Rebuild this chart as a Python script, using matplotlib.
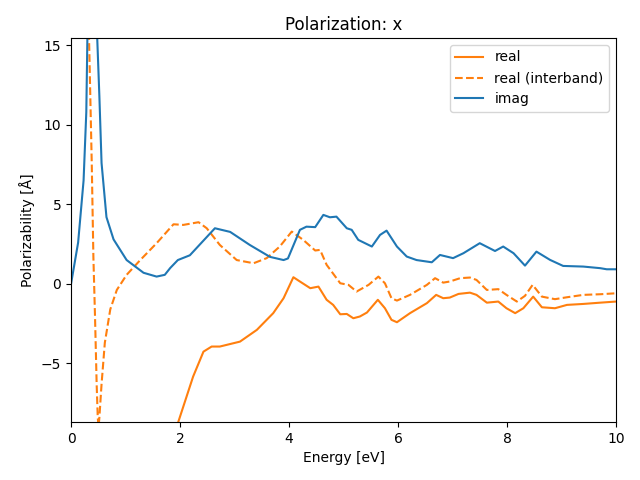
## polarization spectrum: real / imag parts
import matplotlib
matplotlib.use('Agg')
from matplotlib import pyplot as plt

# -----------------------------------------------------------------------------
# data
e_real = [1.80, 1.97, 2.24, 2.43, 2.58, 2.73, 3.10, 3.41, 3.71, 3.90, 4.08, 4.20,
          4.39, 4.54, 4.69, 4.81, 4.94, 5.06, 5.18, 5.30, 5.43, 5.63, 5.76, 5.88,
          5.98, 6.22, 6.53, 6.70, 6.83, 6.95, 7.11, 7.32, 7.44, 7.63, 7.84, 7.99,
          8.15, 8.30, 8.48, 8.64, 8.88, 9.10, 9.40, 9.71, 10.0]
real = [-11.0, -8.66, -5.83, -4.26, -3.94, -3.94, -3.63, -2.89, -1.84, -0.90, 0.42, 0.15,
        -0.27, -0.17, -1.00, -1.32, -1.91, -1.89, -2.16, -2.05, -1.80, -1.00, -1.53, -2.26,
        -2.41, -1.84, -1.21, -0.69, -0.90, -0.86, -0.63, -0.55, -0.69, -1.18, -1.11, -1.53,
        -1.84, -1.53, -0.80, -1.47, -1.53, -1.32, -1.26, -1.18, -1.11]

e_inter = [0.28, 0.33, 0.38, 0.41, 0.44, 0.47, 0.49, 0.505, 0.52, 0.56, 0.62, 0.72,
           0.84, 1.02, 1.27, 1.57, 1.88, 2.06, 2.34, 2.49, 2.73, 3.04, 3.35, 3.59,
           3.83, 4.05, 4.26, 4.48, 4.57, 4.69, 4.94, 5.09, 5.24, 5.46, 5.64, 5.76,
           5.88, 5.98, 6.22, 6.53, 6.68, 6.83, 6.95, 7.14, 7.32, 7.44, 7.63, 7.84,
           7.99, 8.18, 8.33, 8.47, 8.64, 8.88, 9.10, 9.40, 9.71, 10.0]
real_inter = [22.0, 15.5, 7.6, 1.7, -2.06, -6.3, -8.4, -9.0, -8.4, -6.3, -3.7, -1.6,
              -0.38, 0.57, 1.50, 2.56, 3.75, 3.71, 3.88, 3.50, 2.45, 1.50, 1.30, 1.62,
              2.35, 3.29, 2.77, 2.10, 2.14, 1.20, 0.04, -0.06, -0.48, -0.06, 0.46, 0.04,
              -0.90, -1.05, -0.69, -0.06, 0.36, 0.08, 0.15, 0.36, 0.40, 0.25, -0.38, -0.33,
              -0.69, -1.11, -0.75, -0.06, -0.80, -0.96, -0.84, -0.69, -0.65, -0.59]

e_imag = [0.0, 0.13, 0.23, 0.28, 0.30, 0.39, 0.48, 0.52, 0.56, 0.65, 0.78, 1.02,
          1.33, 1.57, 1.72, 1.82, 1.96, 2.18, 2.64, 2.92, 3.28, 3.65, 3.90, 3.98,
          4.20, 4.32, 4.48, 4.63, 4.75, 4.87, 5.06, 5.15, 5.27, 5.52, 5.67, 5.79,
          5.98, 6.16, 6.34, 6.62, 6.77, 7.01, 7.20, 7.50, 7.78, 7.93, 8.12, 8.33,
          8.54, 8.79, 9.03, 9.40, 9.71, 9.83, 10.0]
imag = [0.0, 2.6, 6.5, 10.8, 15.5, 40.0, 15.5, 11.8, 7.6, 4.2, 2.8, 1.5,
        0.7, 0.46, 0.57, 1.0, 1.5, 1.80, 3.50, 3.27, 2.45, 1.70, 1.50, 1.60,
        3.40, 3.60, 3.57, 4.34, 4.19, 4.23, 3.50, 3.40, 2.77, 2.35, 3.08, 3.35,
        2.35, 1.72, 1.50, 1.36, 1.82, 1.62, 1.93, 2.56, 2.07, 2.35, 1.93, 1.15,
        2.03, 1.51, 1.13, 1.09, 0.99, 0.92, 0.92]

# -----------------------------------------------------------------------------
fig, ax = plt.subplots(figsize=(6.4, 4.8), dpi=100)
ax.plot(e_real, real, color='C1', linestyle='-', label='real')
ax.plot(e_inter, real_inter, color='C1', linestyle='--', label='real (interband)')
ax.plot(e_imag, imag, color='C0', linestyle='-', label='imag')

ax.set_xlim(0, 10)
ax.set_ylim(-8.68, 15.47)
ax.set_title('Polarization: x')
ax.set_xlabel('Energy [eV]')
ax.set_ylabel('Polarizability [Å]')
ax.legend(loc='upper right')
fig.subplots_adjust(left=0.111, right=0.9625, top=0.921, bottom=0.121)
fig.savefig('out.png')
